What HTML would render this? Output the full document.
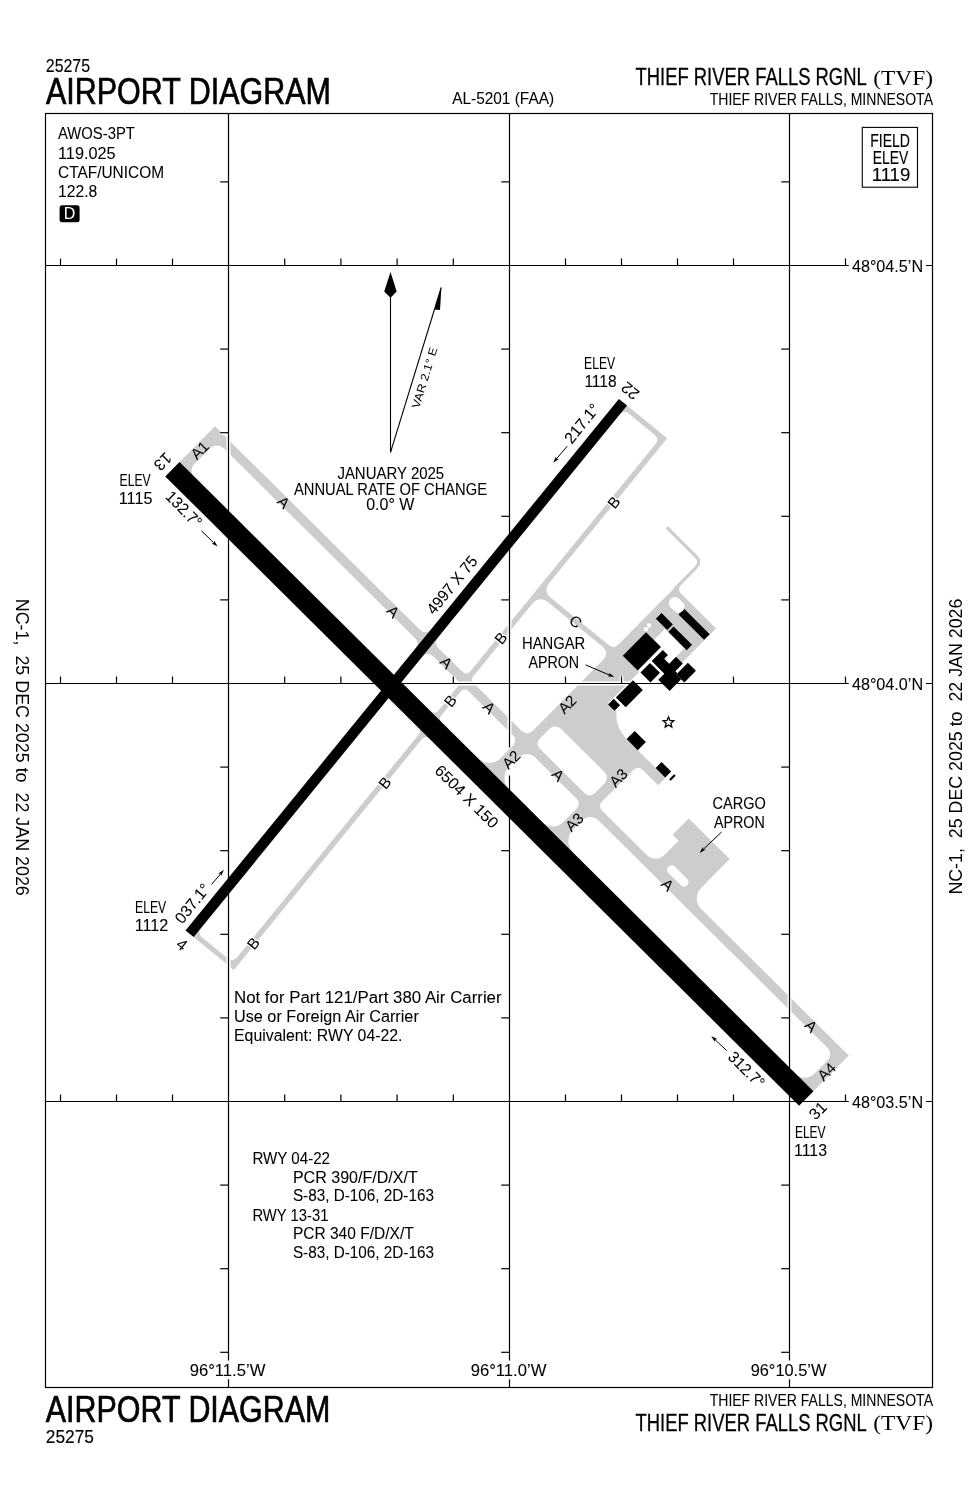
<!DOCTYPE html><html><head><meta charset="utf-8"><style>html,body{margin:0;padding:0;background:#fff;width:978px;height:1500px;overflow:hidden}</style></head><body><svg width="978" height="1500" viewBox="0 0 978 1500" style="display:block;will-change:transform">
<rect width="978" height="1500" fill="#fff"/>
<g fill="#cdcdcd" stroke="none">
<polygon points="172.4,469.2 806.23,1098.52 848.86,1055.59 215.03,426.27"/>
<polygon points="189.6,933.8 622.95,402.23 667.2,438.3 233.85,969.88"/>
<polygon points="538.55,594.53 541.84,590.5 614.61,649.83 611.33,653.86"/>
<path d="M526.55,736.99 L674.87,587.61 L716.02,628.48 L701.93,642.67 L700.16,640.91 L688.53,652.62 L664.76,629.02 L653.84,640.01 L660.94,647.06 L637.69,670.48 L639.11,671.89 L608.1,703.11 L616.62,711.56 Q614.55,725.01 625.55,738.05 L665.65,777.86 L658.25,785.31 L638.02,765.23 L596.81,806.74 Z"/>
<polygon points="655,864.52 678.6,840.74 672.57,834.75 688.77,818.43 729.72,859.09 689.91,899.18"/>
<polygon points="676.17,656.55 682.21,662.54 701.93,642.67 695.9,636.68"/>
<path d="M666.52,527.19 L695.97,556.43 Q701.65,562.06 696.01,567.74 L674.17,589.74" fill="none" stroke="#cdcdcd" stroke-width="3.2"/>
<path d="M675.02,589.59 L680.66,584.2 L681.08,584.62 A7,7 0 0 0 681.12,594.52 L680.69,594.95 Z"/>
</g>
<path fill="#fff" d="M193.7,464.78 L209.8,448.56 A10,10 0 0 1 223.94,448.51 L415.36,638.56 A7,7 0 0 1 415.85,647.96 L393.93,674.85 L193.74,476.09 A8,8 0 0 1 193.7,464.78 Z"/>
<path fill="#fff" d="M401.42,682.29 L422.47,656.46 A7,7 0 0 1 432.83,655.91 L457.25,680.16 A5,5 0 0 1 457.6,686.87 L438.02,710.89 A5,5 0 0 1 430.62,711.28 L401.42,682.29 Z"/>
<path fill="#fff" d="M441.25,715.48 L460.83,691.45 A5,5 0 0 1 468.23,691.06 L513.11,735.62 A7,7 0 0 1 513.15,745.52 L500.57,758.19 A16,16 0 0 1 477.94,758.27 L441.6,722.18 A5,5 0 0 1 441.25,715.48 Z"/>
<path fill="#fff" d="M509.09,766.64 L518.14,757.52 A12,12 0 0 1 535.11,757.46 L576.62,798.68 A7,7 0 0 1 576.66,808.58 L563.38,821.96 A15,15 0 0 1 542.16,822.03 L509.17,789.27 A16,16 0 0 1 509.09,766.64 Z"/>
<path fill="#fff" d="M573.31,829 L581.65,820.59 A12,12 0 0 1 598.63,820.53 L827.48,1047.75 A9,9 0 0 1 827.52,1060.48 L814.24,1073.85 A13,13 0 0 1 795.86,1073.92 L573.39,853.04 A17,17 0 0 1 573.31,829 Z"/>
<path fill="#fff" d="M539.64,738.71 L549.5,728.78 A8,8 0 0 1 560.82,728.74 L604.46,772.06 A8,8 0 0 1 604.5,783.38 L594.64,793.31 A7,7 0 0 1 584.74,793.35 L539.68,748.61 A7,7 0 0 1 539.64,738.71 Z"/>
<path fill="#fff" d="M437.4,638.15 L619.95,414.23 A6,6 0 0 1 628.39,413.37 L655.08,435.13 A6,6 0 0 1 655.94,443.57 L469.99,671.68 A5,5 0 0 1 462.59,672.07 L437.89,647.54 A7,7 0 0 1 437.4,638.15 Z"/>
<path fill="#fff" d="M388.53,698.09 L200.75,928.44 A6,6 0 0 0 201.61,936.88 L228.3,958.64 A6,6 0 0 0 236.75,957.78 L419.35,733.78 A4,4 0 0 0 419.07,728.42 L388.53,698.09 Z"/>
<g fill="#cdcdcd">
<path d="M425.96,636.82 L420.04,630.66 L420.42,630.19 A7,7 0 0 0 430.77,629.65 L431.2,630.07 Z"/>
<path d="M541.49,591.25 L547.83,583.78 L548.3,584.16 A9,9 0 0 0 549.59,596.82 L549.21,597.29 Z"/>
<path d="M613.83,650.22 L609.13,646.13 L609.55,645.71 A6,6 0 0 0 617.6,645.28 L618.07,645.66 Z"/>
<path d="M596.38,806.03 L601.34,810.68 L601.77,810.26 A6,6 0 0 1 601.74,801.77 L601.31,801.35 Z"/>
<path d="M638.02,764.1 L642.7,769.03 L642.28,769.46 A6,6 0 0 0 633.79,769.49 L633.37,769.06 Z"/>
<path d="M655.7,864.94 L646.76,855.78 L647.18,855.36 A12,12 0 0 0 664.15,855.29 L664.58,855.72 Z"/>
<path d="M689.48,898.47 L700.83,909.46 L701.25,909.04 A15,15 0 0 1 701.18,887.83 L700.75,887.4 Z"/>
<path d="M425.43,733.61 L421.59,738.65 L422.01,739.07 A5,5 0 0 1 429.41,738.68 L429.79,738.22 Z"/>
<path d="M422.72,730.92 L419.21,734.91 L418.78,734.48 A5,5 0 0 0 418.43,727.78 L418.81,727.31 Z"/>
<path d="M539.21,594.04 L532.55,602.53 L533.01,602.91 A10,10 0 0 1 547.08,601.48 L547.46,601.02 Z"/>
<path d="M611.27,652.79 L603.68,646.85 L603.25,647.27 A8,8 0 0 1 603.87,659.11 L604.34,659.49 Z"/>
<path d="M527.26,737.41 L532.62,731.73 L532.19,731.31 A7,7 0 0 1 522.29,731.34 L521.87,731.77 Z"/>
<path d="M469.28,679.83 L473.19,683.43 L473.57,682.97 A5,5 0 0 1 473.22,676.26 L472.79,675.84 Z"/>
</g>
<path fill="#fff" d="M668.39,872.88 L680.95,885.35 A4.4,4.4 0 0 0 687.17,885.33 L687.31,885.19 A4.4,4.4 0 0 0 687.29,878.97 L674.73,866.5 A4.4,4.4 0 0 0 668.51,866.52 L668.37,866.66 A4.4,4.4 0 0 0 668.39,872.88 Z"/>
<g stroke="#fff" stroke-width="4" fill="none">
<rect x="45.5" y="113.5" width="887" height="1274"/>
<path d="M228.5 113.5 V1360.5 M228.5 1379.3 V1387.5"/>
<path d="M220.2 181.9 H228.5"/>
<path d="M220.2 349.1 H228.5"/>
<path d="M220.2 432.7 H228.5"/>
<path d="M220.2 516.3 H228.5"/>
<path d="M220.2 599.9 H228.5"/>
<path d="M220.2 767.1 H228.5"/>
<path d="M220.2 850.7 H228.5"/>
<path d="M220.2 934.3 H228.5"/>
<path d="M220.2 1017.9 H228.5"/>
<path d="M220.2 1185.1 H228.5"/>
<path d="M220.2 1268.7 H228.5"/>
<path d="M220.2 1352.3 H228.5"/>
<path d="M509.5 113.5 V747.5 M509.5 775.5 V1360.5 M509.5 1379.3 V1387.5"/>
<path d="M501.2 181.9 H509.5"/>
<path d="M501.2 349.1 H509.5"/>
<path d="M501.2 432.7 H509.5"/>
<path d="M501.2 516.3 H509.5"/>
<path d="M501.2 599.9 H509.5"/>
<path d="M501.2 850.7 H509.5"/>
<path d="M501.2 934.3 H509.5"/>
<path d="M501.2 1017.9 H509.5"/>
<path d="M501.2 1185.1 H509.5"/>
<path d="M501.2 1268.7 H509.5"/>
<path d="M501.2 1352.3 H509.5"/>
<path d="M789.5 113.5 V1360.5 M789.5 1379.3 V1387.5"/>
<path d="M781.2 181.9 H789.5"/>
<path d="M781.2 349.1 H789.5"/>
<path d="M781.2 432.7 H789.5"/>
<path d="M781.2 516.3 H789.5"/>
<path d="M781.2 599.9 H789.5"/>
<path d="M781.2 767.1 H789.5"/>
<path d="M781.2 850.7 H789.5"/>
<path d="M781.2 934.3 H789.5"/>
<path d="M781.2 1017.9 H789.5"/>
<path d="M781.2 1185.1 H789.5"/>
<path d="M781.2 1268.7 H789.5"/>
<path d="M781.2 1352.3 H789.5"/>
<path d="M45.5 265.5 H848.8 M926 265.5 H932.5"/>
<path d="M60.5 258.5 V265.5"/>
<path d="M116.5 258.5 V265.5"/>
<path d="M172.5 258.5 V265.5"/>
<path d="M284.7 258.5 V265.5"/>
<path d="M340.9 258.5 V265.5"/>
<path d="M397.1 258.5 V265.5"/>
<path d="M453.3 258.5 V265.5"/>
<path d="M565.5 258.5 V265.5"/>
<path d="M621.5 258.5 V265.5"/>
<path d="M677.5 258.5 V265.5"/>
<path d="M733.5 258.5 V265.5"/>
<path d="M845.5 258.5 V265.5"/>
<path d="M45.5 683.5 H848.8 M926 683.5 H932.5"/>
<path d="M60.5 676.5 V683.5"/>
<path d="M116.5 676.5 V683.5"/>
<path d="M172.5 676.5 V683.5"/>
<path d="M284.7 676.5 V683.5"/>
<path d="M340.9 676.5 V683.5"/>
<path d="M397.1 676.5 V683.5"/>
<path d="M453.3 676.5 V683.5"/>
<path d="M565.5 676.5 V683.5"/>
<path d="M621.5 676.5 V683.5"/>
<path d="M677.5 676.5 V683.5"/>
<path d="M733.5 676.5 V683.5"/>
<path d="M845.5 676.5 V683.5"/>
<path d="M45.5 1101.5 H848.8 M926 1101.5 H932.5"/>
<path d="M60.5 1094.5 V1101.5"/>
<path d="M116.5 1094.5 V1101.5"/>
<path d="M172.5 1094.5 V1101.5"/>
<path d="M284.7 1094.5 V1101.5"/>
<path d="M340.9 1094.5 V1101.5"/>
<path d="M397.1 1094.5 V1101.5"/>
<path d="M453.3 1094.5 V1101.5"/>
<path d="M565.5 1094.5 V1101.5"/>
<path d="M621.5 1094.5 V1101.5"/>
<path d="M677.5 1094.5 V1101.5"/>
<path d="M733.5 1094.5 V1101.5"/>
<path d="M845.5 1094.5 V1101.5"/>
</g>
<g stroke="#000" stroke-width="1.2" fill="none">
<rect x="45.5" y="113.5" width="887" height="1274"/>
<path d="M228.5 113.5 V1360.5 M228.5 1379.3 V1387.5"/>
<path d="M220.2 181.9 H228.5"/>
<path d="M220.2 349.1 H228.5"/>
<path d="M220.2 432.7 H228.5"/>
<path d="M220.2 516.3 H228.5"/>
<path d="M220.2 599.9 H228.5"/>
<path d="M220.2 767.1 H228.5"/>
<path d="M220.2 850.7 H228.5"/>
<path d="M220.2 934.3 H228.5"/>
<path d="M220.2 1017.9 H228.5"/>
<path d="M220.2 1185.1 H228.5"/>
<path d="M220.2 1268.7 H228.5"/>
<path d="M220.2 1352.3 H228.5"/>
<path d="M509.5 113.5 V747.5 M509.5 775.5 V1360.5 M509.5 1379.3 V1387.5"/>
<path d="M501.2 181.9 H509.5"/>
<path d="M501.2 349.1 H509.5"/>
<path d="M501.2 432.7 H509.5"/>
<path d="M501.2 516.3 H509.5"/>
<path d="M501.2 599.9 H509.5"/>
<path d="M501.2 850.7 H509.5"/>
<path d="M501.2 934.3 H509.5"/>
<path d="M501.2 1017.9 H509.5"/>
<path d="M501.2 1185.1 H509.5"/>
<path d="M501.2 1268.7 H509.5"/>
<path d="M501.2 1352.3 H509.5"/>
<path d="M789.5 113.5 V1360.5 M789.5 1379.3 V1387.5"/>
<path d="M781.2 181.9 H789.5"/>
<path d="M781.2 349.1 H789.5"/>
<path d="M781.2 432.7 H789.5"/>
<path d="M781.2 516.3 H789.5"/>
<path d="M781.2 599.9 H789.5"/>
<path d="M781.2 767.1 H789.5"/>
<path d="M781.2 850.7 H789.5"/>
<path d="M781.2 934.3 H789.5"/>
<path d="M781.2 1017.9 H789.5"/>
<path d="M781.2 1185.1 H789.5"/>
<path d="M781.2 1268.7 H789.5"/>
<path d="M781.2 1352.3 H789.5"/>
<path d="M45.5 265.5 H848.8 M926 265.5 H932.5"/>
<path d="M60.5 258.5 V265.5"/>
<path d="M116.5 258.5 V265.5"/>
<path d="M172.5 258.5 V265.5"/>
<path d="M284.7 258.5 V265.5"/>
<path d="M340.9 258.5 V265.5"/>
<path d="M397.1 258.5 V265.5"/>
<path d="M453.3 258.5 V265.5"/>
<path d="M565.5 258.5 V265.5"/>
<path d="M621.5 258.5 V265.5"/>
<path d="M677.5 258.5 V265.5"/>
<path d="M733.5 258.5 V265.5"/>
<path d="M845.5 258.5 V265.5"/>
<path d="M45.5 683.5 H848.8 M926 683.5 H932.5"/>
<path d="M60.5 676.5 V683.5"/>
<path d="M116.5 676.5 V683.5"/>
<path d="M172.5 676.5 V683.5"/>
<path d="M284.7 676.5 V683.5"/>
<path d="M340.9 676.5 V683.5"/>
<path d="M397.1 676.5 V683.5"/>
<path d="M453.3 676.5 V683.5"/>
<path d="M565.5 676.5 V683.5"/>
<path d="M621.5 676.5 V683.5"/>
<path d="M677.5 676.5 V683.5"/>
<path d="M733.5 676.5 V683.5"/>
<path d="M845.5 676.5 V683.5"/>
<path d="M45.5 1101.5 H848.8 M926 1101.5 H932.5"/>
<path d="M60.5 1094.5 V1101.5"/>
<path d="M116.5 1094.5 V1101.5"/>
<path d="M172.5 1094.5 V1101.5"/>
<path d="M284.7 1094.5 V1101.5"/>
<path d="M340.9 1094.5 V1101.5"/>
<path d="M397.1 1094.5 V1101.5"/>
<path d="M453.3 1094.5 V1101.5"/>
<path d="M565.5 1094.5 V1101.5"/>
<path d="M621.5 1094.5 V1101.5"/>
<path d="M677.5 1094.5 V1101.5"/>
<path d="M733.5 1094.5 V1101.5"/>
<path d="M845.5 1094.5 V1101.5"/>
</g>
<polygon fill="#000" points="165.25,476.4 799.08,1105.72 813.38,1091.32 179.55,462"/>
<polygon fill="#000" points="185.53,930.48 618.88,398.91 627.02,405.54 193.67,937.12"/>
<g fill="#000">
<polygon points="622.78,655.68 637.69,670.48 660.94,647.06 646.03,632.26"/>
<polygon points="640.52,672.59 650.46,682.45 659.97,672.87 650.03,663.01"/>
<polygon points="676.24,674.51 684.33,682.54 695.95,670.83 687.86,662.8"/>
<polygon points="655.89,618.79 667.24,630.07 672.88,624.39 661.52,613.12"/>
<polygon points="668.31,631.83 686.76,650.15 692.04,644.83 673.59,626.51"/>
<polygon points="678.5,614.47 704.04,639.83 709.68,634.16 684.13,608.79"/>
<polygon points="615.86,697.43 625.8,707.29 642.85,690.12 632.91,680.25"/>
<polygon points="608.11,704.52 614.5,710.87 620.13,705.19 613.75,698.85"/>
<polygon points="626.62,739.11 637.76,750.17 645.86,742.01 634.72,730.95"/>
<polygon points="655.64,768.06 665.22,777.58 671.14,771.62 661.56,762.1"/>
<polygon points="651.65,661.09 662.79,649.88 667.97,655.03 664.23,658.79 669.2,663.72 676.03,656.83 682.85,663.6 675.31,671.19 677.44,673.31 676.24,674.51 681.13,679.37 669.58,691.01 658.3,679.81 664.36,673.71"/>
<polygon points="669.19,779.26 670.75,780.81 675.68,775.84 674.12,774.29"/>
</g>
<circle cx="645.9" cy="629.2" r="2.2" fill="#fff"/><circle cx="649.1" cy="625.5" r="2.2" fill="#fff"/>
<path fill="#fff" d="M670.55,607.28 L674.38,611.09 A5.8,5.8 0 0 0 682.59,611.06 L682.87,610.78 A5.8,5.8 0 0 0 682.84,602.57 L679.01,598.77 A5.8,5.8 0 0 0 670.8,598.8 L670.52,599.09 A5.8,5.8 0 0 0 670.55,607.28 Z"/>
<g fill="#000">
<text x="45.8" y="72" font-size="17.44" font-family='"Liberation Sans", sans-serif' text-anchor="start" textLength="44.3" lengthAdjust="spacingAndGlyphs" fill="#000" stroke="#000" stroke-width="0.1" >25275</text>
<text x="46" y="104.3" font-size="36.77" font-family='"Liberation Sans", sans-serif' text-anchor="start" textLength="284.8" lengthAdjust="spacingAndGlyphs" fill="#000" stroke="#000" stroke-width="0.68" >AIRPORT DIAGRAM</text>
<text x="452.2" y="103.7" font-size="16.13" font-family='"Liberation Sans", sans-serif' text-anchor="start" textLength="101.9" lengthAdjust="spacingAndGlyphs" fill="#000" stroke="#000" stroke-width="0.06" >AL-5201 (FAA)</text>
<text x="635.5" y="85.4" font-size="23.11" font-family='"Liberation Sans", sans-serif' text-anchor="start" textLength="231.2" lengthAdjust="spacingAndGlyphs" fill="#000" stroke="#000" stroke-width="0.27" >THIEF RIVER FALLS RGNL</text>
<text x="873.3" y="84.5" font-size="21.22" font-family='"Liberation Serif", serif' text-anchor="start" textLength="59.7" lengthAdjust="spacingAndGlyphs" fill="#000" stroke="#000" stroke-width="0" >(TVF)</text>
<text x="709.7" y="104.5" font-size="15.99" font-family='"Liberation Sans", sans-serif' text-anchor="start" textLength="223.3" lengthAdjust="spacingAndGlyphs" fill="#000" stroke="#000" stroke-width="0.06" >THIEF RIVER FALLS, MINNESOTA</text>
<text x="45.8" y="1421.7" font-size="36.77" font-family='"Liberation Sans", sans-serif' text-anchor="start" textLength="284.6" lengthAdjust="spacingAndGlyphs" fill="#000" stroke="#000" stroke-width="0.68" >AIRPORT DIAGRAM</text>
<text x="45.8" y="1443.2" font-size="18.6" font-family='"Liberation Sans", sans-serif' text-anchor="start" textLength="48.1" lengthAdjust="spacingAndGlyphs" fill="#000" stroke="#000" stroke-width="0.14" >25275</text>
<text x="709.7" y="1405.9" font-size="15.99" font-family='"Liberation Sans", sans-serif' text-anchor="start" textLength="223.3" lengthAdjust="spacingAndGlyphs" fill="#000" stroke="#000" stroke-width="0.06" >THIEF RIVER FALLS, MINNESOTA</text>
<text x="635.5" y="1430.5" font-size="23.11" font-family='"Liberation Sans", sans-serif' text-anchor="start" textLength="231.2" lengthAdjust="spacingAndGlyphs" fill="#000" stroke="#000" stroke-width="0.27" >THIEF RIVER FALLS RGNL</text>
<text x="873.3" y="1429.6" font-size="21.22" font-family='"Liberation Serif", serif' text-anchor="start" textLength="59.7" lengthAdjust="spacingAndGlyphs" fill="#000" stroke="#000" stroke-width="0" >(TVF)</text>
<text x="58" y="139.4" font-size="15.99" font-family='"Liberation Sans", sans-serif' text-anchor="start" textLength="76.9" lengthAdjust="spacingAndGlyphs" fill="#000" stroke="#000" stroke-width="0.06" >AWOS-3PT</text>
<text x="58" y="158.5" font-size="15.99" font-family='"Liberation Sans", sans-serif' text-anchor="start" textLength="57.6" lengthAdjust="spacingAndGlyphs" fill="#000" stroke="#000" stroke-width="0.06" >119.025</text>
<text x="58" y="177.6" font-size="15.99" font-family='"Liberation Sans", sans-serif' text-anchor="start" textLength="106" lengthAdjust="spacingAndGlyphs" fill="#000" stroke="#000" stroke-width="0.06" >CTAF/UNICOM</text>
<text x="58" y="196.7" font-size="15.99" font-family='"Liberation Sans", sans-serif' text-anchor="start" textLength="39.3" lengthAdjust="spacingAndGlyphs" fill="#000" stroke="#000" stroke-width="0.06" >122.8</text>
<rect x="59.6" y="205.2" width="20" height="17" rx="2.5" fill="#000"/>
<text x="69.6" y="219.2" font-size="15.99" font-family='"Liberation Sans", sans-serif' text-anchor="middle" fill="#fff" stroke="#fff" stroke-width="0.06" >D</text>
<rect x="862.3" y="127.4" width="55.2" height="59.8" fill="none" stroke="#000" stroke-width="1.1"/>
<text x="870.2" y="146.8" font-size="18.6" font-family='"Liberation Sans", sans-serif' text-anchor="start" textLength="39.8" lengthAdjust="spacingAndGlyphs" fill="#000" stroke="#000" stroke-width="0.14" >FIELD</text>
<text x="872.7" y="164" font-size="18.6" font-family='"Liberation Sans", sans-serif' text-anchor="start" textLength="35.6" lengthAdjust="spacingAndGlyphs" fill="#000" stroke="#000" stroke-width="0.14" >ELEV</text>
<text x="871.7" y="181.1" font-size="18.6" font-family='"Liberation Sans", sans-serif' text-anchor="start" textLength="38.6" lengthAdjust="spacingAndGlyphs" fill="#000" stroke="#000" stroke-width="0.14" >1119</text>
<text x="851.9" y="271.7" font-size="16.13" font-family='"Liberation Sans", sans-serif' text-anchor="start" textLength="71.2" lengthAdjust="spacingAndGlyphs" fill="#000" stroke="#000" stroke-width="0.06" >48°04.5’N</text>
<text x="851.9" y="689.7" font-size="16.13" font-family='"Liberation Sans", sans-serif' text-anchor="start" textLength="71.2" lengthAdjust="spacingAndGlyphs" fill="#000" stroke="#000" stroke-width="0.06" >48°04.0’N</text>
<text x="851.9" y="1107.7" font-size="16.13" font-family='"Liberation Sans", sans-serif' text-anchor="start" textLength="71.2" lengthAdjust="spacingAndGlyphs" fill="#000" stroke="#000" stroke-width="0.06" >48°03.5’N</text>
<text x="227.5" y="1375.8" font-size="17.15" font-family='"Liberation Sans", sans-serif' text-anchor="middle" textLength="75.7" lengthAdjust="spacingAndGlyphs" fill="#000" stroke="#000" stroke-width="0.09" >96°11.5’W</text>
<text x="508.5" y="1375.8" font-size="17.15" font-family='"Liberation Sans", sans-serif' text-anchor="middle" textLength="75.7" lengthAdjust="spacingAndGlyphs" fill="#000" stroke="#000" stroke-width="0.09" >96°11.0’W</text>
<text x="788.5" y="1375.8" font-size="17.15" font-family='"Liberation Sans", sans-serif' text-anchor="middle" textLength="75.7" lengthAdjust="spacingAndGlyphs" fill="#000" stroke="#000" stroke-width="0.09" >96°10.5’W</text>
<text transform="translate(16.1 598.8) rotate(90)" x="0" y="0" font-size="18.75" font-family='"Liberation Sans", sans-serif' textLength="297" lengthAdjust="spacingAndGlyphs" style="white-space:pre">NC-1,  25 DEC 2025 to  22 JAN 2026</text>
<text transform="translate(961.6 894.6) rotate(-90)" x="0" y="0" font-size="18.75" font-family='"Liberation Sans", sans-serif' textLength="296" lengthAdjust="spacingAndGlyphs" style="white-space:pre">NC-1,  25 DEC 2025 to  22 JAN 2026</text>
<text x="234" y="1003.2" font-size="16.42" font-family='"Liberation Sans", sans-serif' text-anchor="start" textLength="267.6" lengthAdjust="spacingAndGlyphs" fill="#000" stroke="#000" stroke-width="0.07" >Not for Part 121/Part 380 Air Carrier</text>
<text x="234" y="1022.2" font-size="16.42" font-family='"Liberation Sans", sans-serif' text-anchor="start" textLength="184.8" lengthAdjust="spacingAndGlyphs" fill="#000" stroke="#000" stroke-width="0.07" >Use or Foreign Air Carrier</text>
<text x="234" y="1041.4" font-size="16.42" font-family='"Liberation Sans", sans-serif' text-anchor="start" textLength="168.5" lengthAdjust="spacingAndGlyphs" fill="#000" stroke="#000" stroke-width="0.07" >Equivalent: RWY 04-22.</text>
<text x="252.4" y="1163.6" font-size="16.28" font-family='"Liberation Sans", sans-serif' text-anchor="start" textLength="77.6" lengthAdjust="spacingAndGlyphs" fill="#000" stroke="#000" stroke-width="0.07" >RWY 04-22</text>
<text x="292.9" y="1182.7" font-size="16.28" font-family='"Liberation Sans", sans-serif' text-anchor="start" textLength="124.8" lengthAdjust="spacingAndGlyphs" fill="#000" stroke="#000" stroke-width="0.07" >PCR 390/F/D/X/T</text>
<text x="292.9" y="1201.4" font-size="16.28" font-family='"Liberation Sans", sans-serif' text-anchor="start" textLength="141" lengthAdjust="spacingAndGlyphs" fill="#000" stroke="#000" stroke-width="0.07" >S-83, D-106, 2D-163</text>
<text x="252.4" y="1220.5" font-size="16.28" font-family='"Liberation Sans", sans-serif' text-anchor="start" textLength="76" lengthAdjust="spacingAndGlyphs" fill="#000" stroke="#000" stroke-width="0.07" >RWY 13-31</text>
<text x="292.9" y="1239.4" font-size="16.28" font-family='"Liberation Sans", sans-serif' text-anchor="start" textLength="120.8" lengthAdjust="spacingAndGlyphs" fill="#000" stroke="#000" stroke-width="0.07" >PCR 340 F/D/X/T</text>
<text x="292.9" y="1258.3" font-size="16.28" font-family='"Liberation Sans", sans-serif' text-anchor="start" textLength="141" lengthAdjust="spacingAndGlyphs" fill="#000" stroke="#000" stroke-width="0.07" >S-83, D-106, 2D-163</text>
<text x="337.4" y="479.3" font-size="16.28" font-family='"Liberation Sans", sans-serif' text-anchor="start" textLength="106.8" lengthAdjust="spacingAndGlyphs" fill="#000" stroke="#000" stroke-width="0.07" >JANUARY 2025</text>
<text x="294" y="495.1" font-size="16.28" font-family='"Liberation Sans", sans-serif' text-anchor="start" textLength="193" lengthAdjust="spacingAndGlyphs" fill="#000" stroke="#000" stroke-width="0.07" >ANNUAL RATE OF CHANGE</text>
<text x="366.2" y="510.2" font-size="16.28" font-family='"Liberation Sans", sans-serif' text-anchor="start" textLength="48.3" lengthAdjust="spacingAndGlyphs" fill="#000" stroke="#000" stroke-width="0.07" >0.0° W</text>
<text x="119.6" y="485.5" font-size="16.28" font-family='"Liberation Sans", sans-serif' text-anchor="start" textLength="31.1" lengthAdjust="spacingAndGlyphs" fill="#000" stroke="#000" stroke-width="0.07" >ELEV</text>
<text x="118.8" y="503.8" font-size="17.15" font-family='"Liberation Sans", sans-serif' text-anchor="start" textLength="33.6" lengthAdjust="spacingAndGlyphs" fill="#000" stroke="#000" stroke-width="0.09" >1115</text>
<text x="584.1" y="369.1" font-size="16.28" font-family='"Liberation Sans", sans-serif' text-anchor="start" textLength="31" lengthAdjust="spacingAndGlyphs" fill="#000" stroke="#000" stroke-width="0.07" >ELEV</text>
<text x="584.4" y="387" font-size="17.15" font-family='"Liberation Sans", sans-serif' text-anchor="start" textLength="32.2" lengthAdjust="spacingAndGlyphs" fill="#000" stroke="#000" stroke-width="0.09" >1118</text>
<text x="135.1" y="912.7" font-size="16.28" font-family='"Liberation Sans", sans-serif' text-anchor="start" textLength="31.1" lengthAdjust="spacingAndGlyphs" fill="#000" stroke="#000" stroke-width="0.07" >ELEV</text>
<text x="134.7" y="930.7" font-size="17.15" font-family='"Liberation Sans", sans-serif' text-anchor="start" textLength="33.6" lengthAdjust="spacingAndGlyphs" fill="#000" stroke="#000" stroke-width="0.09" >1112</text>
<text x="794.9" y="1137.8" font-size="16.42" font-family='"Liberation Sans", sans-serif' text-anchor="start" textLength="30.7" lengthAdjust="spacingAndGlyphs" fill="#000" stroke="#000" stroke-width="0.07" >ELEV</text>
<text x="794" y="1155.9" font-size="17.01" font-family='"Liberation Sans", sans-serif' text-anchor="start" textLength="33" lengthAdjust="spacingAndGlyphs" fill="#000" stroke="#000" stroke-width="0.09" >1113</text>
<text x="522" y="649.3" font-size="16.72" font-family='"Liberation Sans", sans-serif' text-anchor="start" textLength="63.3" lengthAdjust="spacingAndGlyphs" fill="#000" stroke="#000" stroke-width="0.08" >HANGAR</text>
<text x="528.4" y="667.6" font-size="16.42" font-family='"Liberation Sans", sans-serif' text-anchor="start" textLength="50.7" lengthAdjust="spacingAndGlyphs" fill="#000" stroke="#000" stroke-width="0.07" >APRON</text>
<text x="712.5" y="809" font-size="16.86" font-family='"Liberation Sans", sans-serif' text-anchor="start" textLength="53.3" lengthAdjust="spacingAndGlyphs" fill="#000" stroke="#000" stroke-width="0.09" >CARGO</text>
<text x="713.9" y="827.6" font-size="16.86" font-family='"Liberation Sans", sans-serif' text-anchor="start" textLength="50.9" lengthAdjust="spacingAndGlyphs" fill="#000" stroke="#000" stroke-width="0.09" >APRON</text>
<text transform="translate(163 461.7) rotate(134.8)" x="0" y="5.5" font-size="15.99" font-family='"Liberation Sans", sans-serif' text-anchor="middle" stroke="#000" stroke-width="0.06">13</text>
<text transform="translate(630.2 390.8) rotate(-140.8)" x="0" y="5.5" font-size="15.99" font-family='"Liberation Sans", sans-serif' text-anchor="middle" stroke="#000" stroke-width="0.06">22</text>
<text transform="translate(181.8 944.5) rotate(39.2)" x="0" y="5.5" font-size="15.99" font-family='"Liberation Sans", sans-serif' text-anchor="middle" stroke="#000" stroke-width="0.06">4</text>
<text transform="translate(817.9 1110.6) rotate(-45.2)" x="0" y="5.5" font-size="15.99" font-family='"Liberation Sans", sans-serif' text-anchor="middle" stroke="#000" stroke-width="0.06">31</text>
<text transform="translate(183.9 509.2) rotate(44.8)" x="0" y="5.5" font-size="15.99" font-family='"Liberation Sans", sans-serif' text-anchor="middle" textLength="44" lengthAdjust="spacingAndGlyphs" stroke="#000" stroke-width="0.06">132.7°</text>
<text transform="translate(746.6 1069.6) rotate(44.8)" x="0" y="5.5" font-size="15.99" font-family='"Liberation Sans", sans-serif' text-anchor="middle" textLength="44" lengthAdjust="spacingAndGlyphs" stroke="#000" stroke-width="0.06">312.7°</text>
<text transform="translate(192.4 903.4) rotate(-50.8)" x="0" y="5.5" font-size="15.99" font-family='"Liberation Sans", sans-serif' text-anchor="middle" textLength="46" lengthAdjust="spacingAndGlyphs" stroke="#000" stroke-width="0.06">037.1°</text>
<text transform="translate(581.9 423.4) rotate(-50.8)" x="0" y="5.5" font-size="15.99" font-family='"Liberation Sans", sans-serif' text-anchor="middle" textLength="46" lengthAdjust="spacingAndGlyphs" stroke="#000" stroke-width="0.06">217.1°</text>
<text transform="translate(451.9 585) rotate(-50.8)" x="0" y="5.5" font-size="15.99" font-family='"Liberation Sans", sans-serif' text-anchor="middle" textLength="70" lengthAdjust="spacingAndGlyphs" stroke="#000" stroke-width="0.06">4997 X 75</text>
<text transform="translate(466.7 796.5) rotate(44.8)" x="0" y="5.4" font-size="15.7" font-family='"Liberation Sans", sans-serif' text-anchor="middle" textLength="82" lengthAdjust="spacingAndGlyphs" stroke="#000" stroke-width="0.05">6504 X 150</text>
<text transform="translate(424.6 377.8) rotate(-72.95)" x="0" y="3.9" font-size="11.34" font-family='"Liberation Sans", sans-serif' text-anchor="middle" textLength="63" lengthAdjust="spacingAndGlyphs" stroke="#000" stroke-width="0">VAR 2.1° E</text>
</g>
<path d="M201.5,530.8 L213.67,542.75" stroke="#000" stroke-width="1.0" fill="none"/>
<polygon fill="#000" points="217.6,546.6 211.63,543.4 213.82,542.89 214.29,540.69"/>
<path d="M726.8,1050.7 L715.2,1039.77" stroke="#000" stroke-width="1.0" fill="none"/>
<polygon fill="#000" points="711.2,1036 717.23,1039.07 715.06,1039.63 714.63,1041.84"/>
<path d="M211.6,884.5 L220.37,874.02" stroke="#000" stroke-width="1.0" fill="none"/>
<polygon fill="#000" points="223.9,869.8 221.19,876 220.5,873.86 218.27,873.57"/>
<path d="M567.2,446.2 L556.76,458.51" stroke="#000" stroke-width="1.0" fill="none"/>
<polygon fill="#000" points="553.2,462.7 555.96,456.51 556.63,458.66 558.85,458.97"/>
<path d="M585.6,664.9 L609.24,674.95" stroke="#000" stroke-width="1.0" fill="none"/>
<polygon fill="#000" points="614.3,677.1 607.57,676.31 609.42,675.03 609.06,672.81"/>
<path d="M721.6,832 L703.5,849.12" stroke="#000" stroke-width="1.0" fill="none"/>
<polygon fill="#000" points="699.5,852.9 702.92,847.05 703.35,849.26 705.53,849.81"/>
<path d="M390.5,297 V452.3" stroke="#000" stroke-width="1.1"/>
<polygon fill="#000" points="390.5,272 396.7,291.6 390.5,297.7 384.2,291.6"/>
<path d="M390.5,452.3 L441.2,287.5" stroke="#000" stroke-width="1.1"/>
<polygon fill="#000" points="441.4,287.2 440,310 434.6,309.5"/>
<polygon points="668.5,716.9 669.97,720.48 673.83,720.77 670.88,723.27 671.79,727.03 668.5,725 665.21,727.03 666.12,723.27 663.17,720.77 667.03,720.48" fill="none" stroke="#000" stroke-width="1.3" stroke-linejoin="miter"/>
<text transform="translate(199.8 450.3) rotate(-45.2)" x="0" y="5.25" font-size="15.26" font-family='"Liberation Sans", sans-serif' text-anchor="middle" stroke="#000" stroke-width="0.04">A1</text>
<text transform="translate(283.6 502.3) rotate(44.8)" x="0" y="5.25" font-size="15.26" font-family='"Liberation Sans", sans-serif' text-anchor="middle" stroke="#000" stroke-width="0.04">A</text>
<text transform="translate(393 611.5) rotate(44.8)" x="0" y="5.25" font-size="15.26" font-family='"Liberation Sans", sans-serif' text-anchor="middle" stroke="#000" stroke-width="0.04">A</text>
<text transform="translate(446.2 662.6) rotate(44.8)" x="0" y="5.25" font-size="15.26" font-family='"Liberation Sans", sans-serif' text-anchor="middle" stroke="#000" stroke-width="0.04">A</text>
<text transform="translate(489 707.5) rotate(44.8)" x="0" y="5.25" font-size="15.26" font-family='"Liberation Sans", sans-serif' text-anchor="middle" stroke="#000" stroke-width="0.04">A</text>
<text transform="translate(558.1 775) rotate(44.8)" x="0" y="5.25" font-size="15.26" font-family='"Liberation Sans", sans-serif' text-anchor="middle" stroke="#000" stroke-width="0.04">A</text>
<text transform="translate(667.6 884.9) rotate(44.8)" x="0" y="5.25" font-size="15.26" font-family='"Liberation Sans", sans-serif' text-anchor="middle" stroke="#000" stroke-width="0.04">A</text>
<text transform="translate(811 1026.2) rotate(44.8)" x="0" y="5.25" font-size="15.26" font-family='"Liberation Sans", sans-serif' text-anchor="middle" stroke="#000" stroke-width="0.04">A</text>
<text transform="translate(826.6 1071.8) rotate(-45.2)" x="0" y="5.25" font-size="15.26" font-family='"Liberation Sans", sans-serif' text-anchor="middle" stroke="#000" stroke-width="0.04">A4</text>
<text transform="translate(567.3 704.4) rotate(-45.2)" x="0" y="5.25" font-size="15.26" font-family='"Liberation Sans", sans-serif' text-anchor="middle" stroke="#000" stroke-width="0.04">A2</text>
<text transform="translate(511.3 759.6) rotate(-45.2)" x="0" y="5.25" font-size="15.26" font-family='"Liberation Sans", sans-serif' text-anchor="middle" stroke="#000" stroke-width="0.04">A2</text>
<text transform="translate(618.5 778) rotate(-45.2)" x="0" y="5.25" font-size="15.26" font-family='"Liberation Sans", sans-serif' text-anchor="middle" stroke="#000" stroke-width="0.04">A3</text>
<text transform="translate(574.4 822.2) rotate(-45.2)" x="0" y="5.25" font-size="15.26" font-family='"Liberation Sans", sans-serif' text-anchor="middle" stroke="#000" stroke-width="0.04">A3</text>
<text transform="translate(575.7 621.6) rotate(39.2)" x="0" y="5.25" font-size="15.26" font-family='"Liberation Sans", sans-serif' text-anchor="middle" stroke="#000" stroke-width="0.04">C</text>
<text transform="translate(613.9 502.4) rotate(-50.8)" x="0" y="5.25" font-size="15.26" font-family='"Liberation Sans", sans-serif' text-anchor="middle" stroke="#fff" stroke-width="2.5" stroke-linejoin="round" fill="#fff">B</text>
<text transform="translate(613.9 502.4) rotate(-50.8)" x="0" y="5.25" font-size="15.26" font-family='"Liberation Sans", sans-serif' text-anchor="middle" stroke="#000" stroke-width="0.04">B</text>
<text transform="translate(500.8 638.3) rotate(-50.8)" x="0" y="5.25" font-size="15.26" font-family='"Liberation Sans", sans-serif' text-anchor="middle" stroke="#fff" stroke-width="2.5" stroke-linejoin="round" fill="#fff">B</text>
<text transform="translate(500.8 638.3) rotate(-50.8)" x="0" y="5.25" font-size="15.26" font-family='"Liberation Sans", sans-serif' text-anchor="middle" stroke="#000" stroke-width="0.04">B</text>
<text transform="translate(450.3 700.9) rotate(-50.8)" x="0" y="5.25" font-size="15.26" font-family='"Liberation Sans", sans-serif' text-anchor="middle" stroke="#fff" stroke-width="2.5" stroke-linejoin="round" fill="#fff">B</text>
<text transform="translate(450.3 700.9) rotate(-50.8)" x="0" y="5.25" font-size="15.26" font-family='"Liberation Sans", sans-serif' text-anchor="middle" stroke="#000" stroke-width="0.04">B</text>
<text transform="translate(385 783) rotate(-50.8)" x="0" y="5.25" font-size="15.26" font-family='"Liberation Sans", sans-serif' text-anchor="middle" stroke="#fff" stroke-width="2.5" stroke-linejoin="round" fill="#fff">B</text>
<text transform="translate(385 783) rotate(-50.8)" x="0" y="5.25" font-size="15.26" font-family='"Liberation Sans", sans-serif' text-anchor="middle" stroke="#000" stroke-width="0.04">B</text>
<text transform="translate(253.4 943.4) rotate(-50.8)" x="0" y="5.25" font-size="15.26" font-family='"Liberation Sans", sans-serif' text-anchor="middle" stroke="#fff" stroke-width="2.5" stroke-linejoin="round" fill="#fff">B</text>
<text transform="translate(253.4 943.4) rotate(-50.8)" x="0" y="5.25" font-size="15.26" font-family='"Liberation Sans", sans-serif' text-anchor="middle" stroke="#000" stroke-width="0.04">B</text>
</svg></body></html>
